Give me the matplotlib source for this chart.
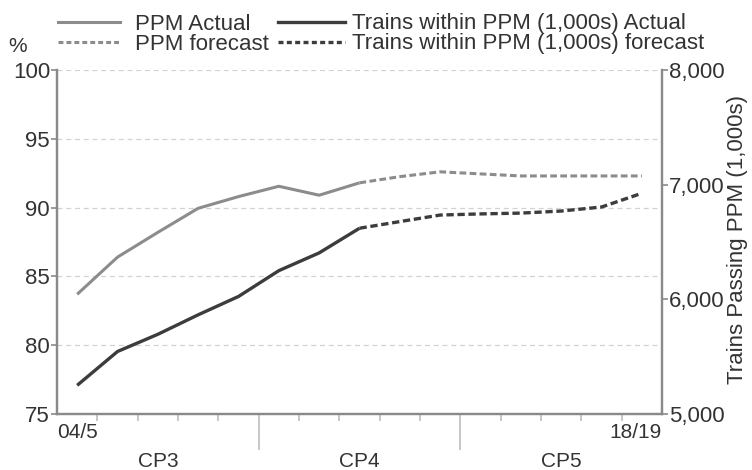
import matplotlib
matplotlib.use("Agg")
import matplotlib.pyplot as plt
from matplotlib.lines import Line2D
from matplotlib.ticker import FuncFormatter, FixedLocator

plt.rcParams['font.family'] = ['Liberation Sans', 'DejaVu Sans']

years = ["04/5", "05/6", "06/7", "07/8", "08/9", "09/10", "10/11", "11/12",
         "12/13", "13/14", "14/15", "15/16", "16/17", "17/18", "18/19"]
periods = ["CP3", "CP4", "CP5"]

ppm_actual = [83.7, 86.4, 88.2, 89.95, 90.8, 91.55, 90.9, 91.8]
ppm_forecast = [91.8, 92.25, 92.6, 92.45, 92.3, 92.3, 92.3, 92.3]
trains_actual = [5250, 5545, 5695, 5865, 6025, 6250, 6405, 6620]
trains_forecast = [6620, 6678, 6735, 6745, 6752, 6770, 6805, 6925]

W, H = 752, 470
fig = plt.figure(figsize=(W / 100, H / 100), dpi=100)
ax = fig.add_axes([57 / W, 1 - 414 / H, (662 - 57) / W, (414 - 70) / H])
ax2 = ax.twinx()

n = len(years)
xa = list(range(len(ppm_actual)))
xf = list(range(len(ppm_actual) - 1, n))

c_ppm = '#8c8c8c'
c_tr = '#3c3c3c'
txt_c = '#333333'
ax.plot(xa, ppm_actual, color=c_ppm, lw=2.2, solid_capstyle='butt', zorder=3)
ax.plot(xf, ppm_forecast, color=c_ppm, lw=2.2, dashes=(2.2, 1.1), zorder=3)
ax2.plot(xa, trains_actual, color=c_tr, lw=2.4, solid_capstyle='butt', zorder=3)
ax2.plot(xf, trains_forecast, color=c_tr, lw=2.4, dashes=(2.2, 1.1), zorder=3)

ax.set_xlim(-0.5, n - 0.5)
ax.set_ylim(75, 100)
ax2.set_ylim(5000, 8000)

for v in [80, 85, 90, 95, 100]:
    ax.axhline(v, color='#d2d2d2', lw=0.9, ls=(0, (4, 3)), zorder=1)

spine_c = '#8a8a8a'
for a in (ax, ax2):
    a.spines['top'].set_visible(False)
    for s in ('left', 'right', 'bottom'):
        a.spines[s].set_color(spine_c)
        a.spines[s].set_linewidth(1.6)
ax.set_yticks([75, 80, 85, 90, 95, 100])
ax.tick_params(axis='y', length=4, width=1.2, color=spine_c, labelsize=16,
               labelcolor=txt_c, pad=1)
ax2.set_yticks([5000, 6000, 7000, 8000])
ax2.yaxis.set_major_formatter(FuncFormatter(lambda v, p: f"{int(v):,}"))
ax2.tick_params(axis='y', length=4, width=1.2, color=spine_c, labelsize=16,
                labelcolor=txt_c, pad=1)

# x ticks: category boundaries
ax.xaxis.set_major_locator(FixedLocator([4.5, 9.5]))
ax.xaxis.set_minor_locator(FixedLocator([i + 0.5 for i in range(n - 1) if i not in (4, 9)]))
ax.tick_params(axis='x', which='major', length=26, width=1.2, color='#bdbdbd', labelbottom=False)
ax.tick_params(axis='x', which='minor', length=5, width=1.2, color='#bdbdbd')
ax2.tick_params(axis='x', which='both', length=0)

trans = ax.get_xaxis_transform()
ax.text(-0.5, -0.025, years[0], transform=trans, ha='left', va='top', fontsize=15, color=txt_c)
ax.text(n - 0.5, -0.025, years[-1], transform=trans, ha='right', va='top', fontsize=15, color=txt_c)
for i, p in enumerate(periods):
    ax.text(i * 5 + 2.0, -0.11, p, transform=trans, ha='center', va='top', fontsize=15, color=txt_c)

fig.text(18 / W, 1 - 46 / H, "%", ha='center', va='center', fontsize=15, color=txt_c)
fig.text(737 / W, 1 - 240 / H, "Trains Passing PPM (1,000s)", rotation=90, ha='center',
         va='center', fontsize=16, color=txt_c)

# manual legend (pixel positions in figure)
def px(x, y):
    return x / W, 1 - y / H

legend_items = [
    ("PPM Actual", c_ppm, 2.2, None, 58, 120, 135, 22),
    ("PPM forecast", c_ppm, 2.2, (1.6, 1.0), 58, 120, 135, 42),
    ("Trains within PPM (1,000s) Actual", c_tr, 2.4, None, 278, 345, 352, 22),
    ("Trains within PPM (1,000s) forecast", c_tr, 2.4, (1.5, 1.0), 278, 345, 352, 42),
]
for label, col, lw, dsh, x0, x1, xt, yy in legend_items:
    (fx0, fy), (fx1, _) = px(x0, yy), px(x1, yy)
    kw = dict(color=col, lw=lw, transform=fig.transFigure)
    if dsh:
        kw['dashes'] = dsh
    fig.add_artist(Line2D([fx0, fx1], [fy, fy], **kw))
    tx, ty = px(xt, yy + 7.5)
    fig.text(tx, ty, label, ha='left', va='baseline', fontsize=16, color=txt_c)

fig.savefig("out.png", dpi=100)
